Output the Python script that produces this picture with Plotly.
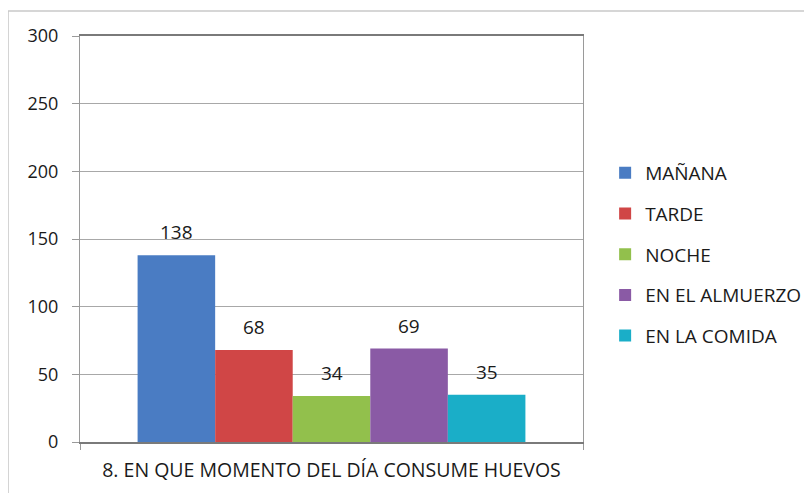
import plotly.graph_objects as go

# Datos del gráfico
pregunta = "8. EN QUE MOMENTO DEL DÍA CONSUME HUEVOS"
momentos = ["MAÑANA", "TARDE", "NOCHE", "EN EL ALMUERZO", "EN LA COMIDA"]
valores = [138, 68, 34, 69, 35]
colores = ["#4a7cc3", "#d04646", "#92c04c", "#8a5aa5", "#1aaec8"]

FUENTE = "Open Sans, Liberation Sans, sans-serif"
bargap = 0.229

fig = go.Figure()

for i, (nombre, valor, color) in enumerate(zip(momentos, valores, colores)):
    fig.add_trace(go.Bar(
        name=nombre,
        x=[pregunta],
        y=[valor],
        marker=dict(color=color, line=dict(width=0)),
        legendgroup=nombre,
        hovertemplate=nombre + ": %{y}<extra></extra>",
    ))

# Etiquetas de datos encima de cada barra (posición según el grupo)
n = len(momentos)
ancho = (1 - bargap) / n
for i, valor in enumerate(valores):
    fig.add_annotation(
        x=-(1 - bargap) / 2 + ancho * (i + 0.5),
        y=valor,
        xref="x", yref="y",
        text=str(valor),
        showarrow=False,
        yanchor="bottom",
        yshift=8,
        font=dict(size=19, color="#1a1a1a", family=FUENTE),
    )

# Marco exterior del gráfico (la página tiene 8 px de margen)
fig.add_shape(type="line", xref="paper", yref="paper",
              x0=-0.1431, x1=-0.1431, y0=1.0616, y1=-0.2,
              line=dict(color="#c8c8c8", width=1.5))
fig.add_shape(type="line", xref="paper", yref="paper",
              x0=-0.1431, x1=1.5, y0=1.0616, y1=1.0616,
              line=dict(color="#c8c8c8", width=1.5))

fig.update_layout(
    barmode="group",
    bargap=bargap,
    width=812,
    height=493,
    margin=dict(l=72, r=237, t=28, b=59, autoexpand=False),
    plot_bgcolor="white",
    paper_bgcolor="white",
    font=dict(family=FUENTE, size=18, color="#1a1a1a"),
    showlegend=True,
    legend=dict(
        x=1.044, xanchor="left",
        y=0.462, yanchor="middle",
        tracegroupgap=13,
        font=dict(size=19, family=FUENTE, color="#1a1a1a"),
        itemwidth=30,
    ),
)

fig.update_xaxes(
    showline=True, linecolor="#7a7a7a", linewidth=1.5, mirror=True,
    ticks="outside", tickson="boundaries", ticklen=6, tickcolor="#9a9a9a",
    tickfont=dict(size=19.5, family=FUENTE, color="#1a1a1a"),
    ticklabelstandoff=10,
    showgrid=False,
)
fig.update_yaxes(
    range=[0, 300], dtick=50,
    showline=True, linecolor="#9a9a9a", linewidth=1, mirror=True,
    ticks="outside", ticklen=7, tickcolor="#9a9a9a",
    showgrid=True, gridcolor="#a8a8a8", gridwidth=1,
    zeroline=False,
    ticklabelstandoff=10,
    tickfont=dict(size=18, family=FUENTE, color="#1a1a1a"),
)

fig.write_html("out.html")
